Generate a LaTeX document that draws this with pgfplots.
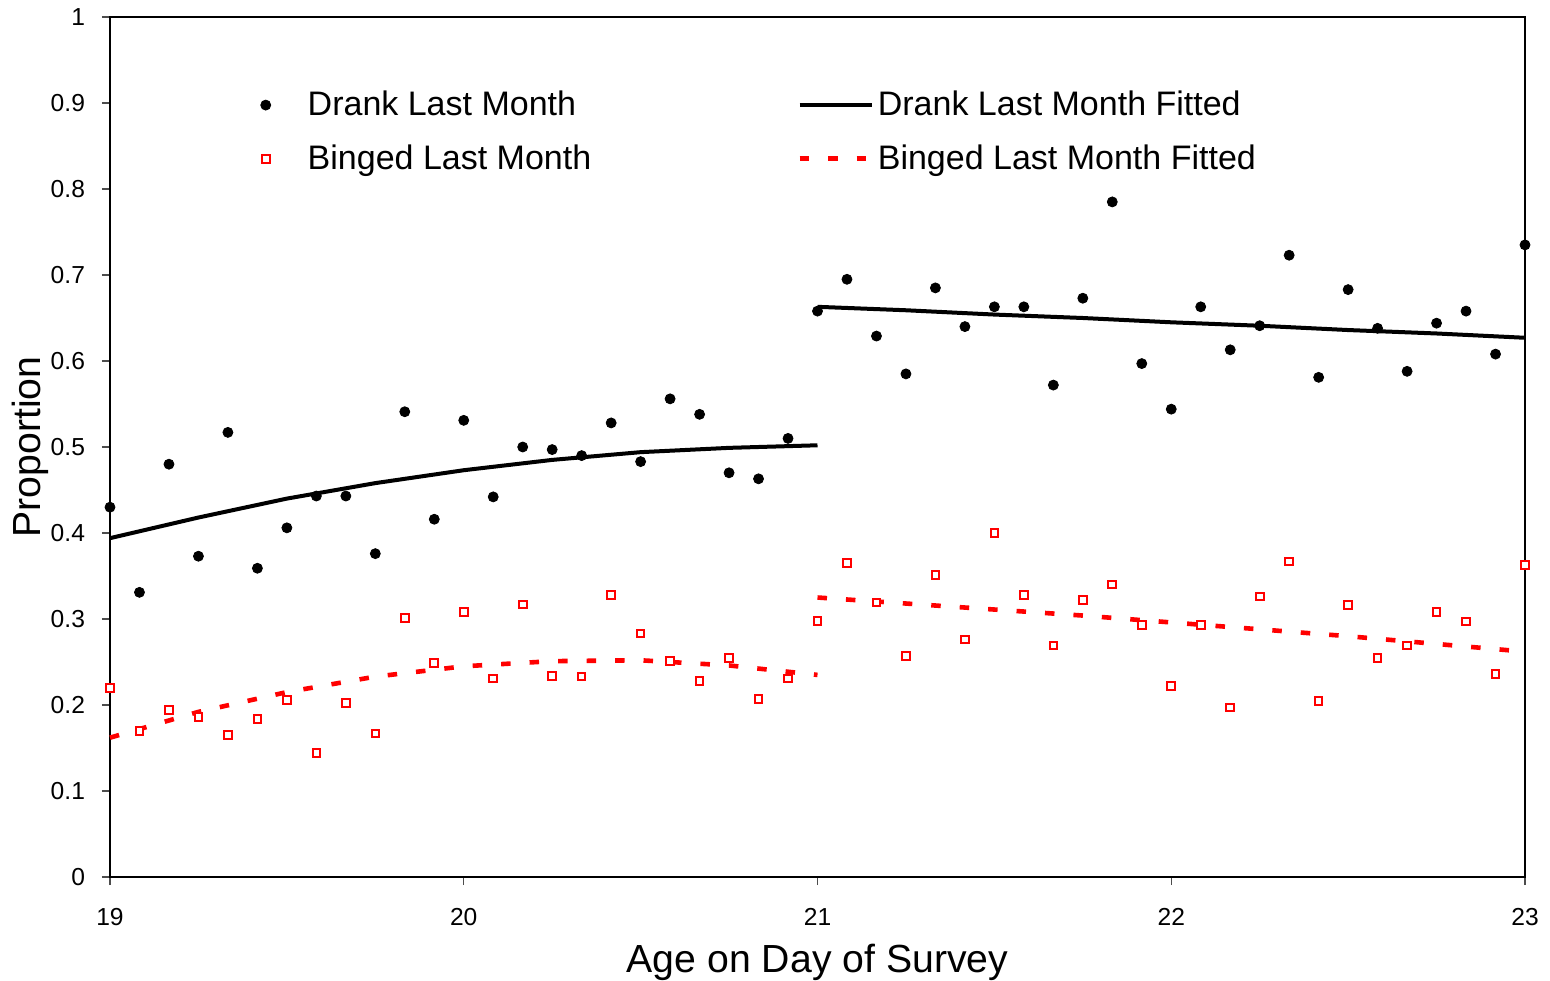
\documentclass[border=0pt]{standalone}
\usepackage{fontspec}
\setmainfont{Liberation Sans}
\usepackage{pgfplots}
\usepackage{pgfplotstable}
\pgfplotsset{compat=1.18}
\pgfplotsset{longline legend/.style={legend image code/.code={\draw[##1] (0pt,0pt) -- (36pt,0pt);}}}

% Monthly observed proportions
\pgfplotstableread{
age     drank  binged
19.0000 0.430  0.220
19.0833 0.331  0.170
19.1667 0.480  0.194
19.2500 0.373  0.186
19.3333 0.517  0.165
19.4167 0.359  0.184
19.5000 0.406  0.206
19.5833 0.443  0.144
19.6667 0.443  0.202
19.7500 0.376  0.167
19.8333 0.541  0.301
19.9167 0.416  0.249
20.0000 0.531  0.308
20.0833 0.442  0.231
20.1667 0.500  0.317
20.2500 0.497  0.234
20.3333 0.490  0.233
20.4167 0.528  0.328
20.5000 0.483  0.283
20.5833 0.556  0.251
20.6667 0.538  0.228
20.7500 0.470  0.255
20.8333 0.463  0.207
20.9167 0.510  0.231
21.0000 0.658  0.298
21.0833 0.695  0.365
21.1667 0.629  0.319
21.2500 0.585  0.257
21.3333 0.685  0.351
21.4167 0.640  0.276
21.5000 0.663  0.400
21.5833 0.663  0.328
21.6667 0.572  0.269
21.7500 0.673  0.322
21.8333 0.785  0.340
21.9167 0.597  0.293
22.0000 0.544  0.222
22.0833 0.663  0.293
22.1667 0.613  0.197
22.2500 0.641  0.326
22.3333 0.723  0.367
22.4167 0.581  0.205
22.5000 0.683  0.316
22.5833 0.638  0.255
22.6667 0.588  0.269
22.7500 0.644  0.308
22.8333 0.658  0.297
22.9167 0.608  0.236
23.0000 0.735  0.363
}\obs

% Fitted values below 21
\pgfplotstableread{
age   drank  binged
19.00 0.394  0.162
19.25 0.418  0.192
19.50 0.440  0.215
19.75 0.458  0.233
20.00 0.473  0.245
20.25 0.485  0.251
20.50 0.494  0.252
20.75 0.499  0.246
21.00 0.502  0.235
}\fitpre

% Fitted values from 21 on
\pgfplotstableread{
age   drank  binged
21.00 0.663  0.325
21.25 0.659  0.318
21.50 0.654  0.311
21.75 0.650  0.304
22.00 0.645  0.296
22.25 0.641  0.288
22.50 0.636  0.280
22.75 0.632  0.271
23.00 0.627  0.262
}\fitpost

\begin{document}
\begin{tikzpicture}
\begin{axis}[
  scale only axis,
  width=707.5pt, height=430pt,
  xmin=19, xmax=23, ymin=0, ymax=1,
  xtick={19,20,21,22,23},
  ytick={0,0.1,0.2,0.3,0.4,0.5,0.6,0.7,0.8,0.9,1},
  yticklabels={0,0.1,0.2,0.3,0.4,0.5,0.6,0.7,0.8,0.9,1},
  /pgf/number format/assume math mode=true,
  tick pos=left,
  tick align=outside,
  major tick length=4pt,
  every tick/.style={gray!60!black, line width=0.6pt},
  axis line style={line width=1.3pt},
  ticklabel style={font=\fontsize{12.3}{14}\selectfont},
  yticklabel style={xshift=-5pt},
  xticklabel style={yshift=-8pt},
  clip=false,
  xlabel={Age on Day of Survey},
  ylabel={Proportion},
  label style={font=\fontsize{19.6}{23}\selectfont},
  xlabel style={at={(axis description cs:0.5,-0.111)}, anchor=base},
  ylabel style={at={(axis description cs:-0.0565,0.5)}, anchor=center, rotate=0},
  legend columns=2,
  legend cell align=left,
  legend style={
    draw=none, fill=none,
    font=\fontsize{17}{20}\selectfont,
    at={(axis description cs:0.102,0.9234)}, anchor=north west,
    row sep=9pt,
    /tikz/column 1/.style={column sep=16.5pt},
    /tikz/column 2/.style={column sep=101pt},
  },
]
\addplot[only marks, mark=*, mark size=2.5pt, black]
  table[x=age, y=drank] {\obs};
\addlegendentry{Drank Last Month}

\addplot[black, line width=2pt, longline legend]
  table[x=age, y=drank] {\fitpre};
\addlegendentry{Drank Last Month Fitted}

\addplot[only marks, mark=square*, mark size=1.9pt, red,
  mark options={fill=white, line width=1pt}]
  table[x=age, y=binged] {\obs};
\addlegendentry{Binged Last Month}

\addplot[red, line width=2.3pt, dash pattern=on 4.75pt off 9.5pt, longline legend]
  table[x=age, y=binged] {\fitpre};
\addlegendentry{Binged Last Month Fitted}

\addplot[black, line width=2pt, forget plot]
  table[x=age, y=drank] {\fitpost};
\addplot[red, line width=2.3pt, dash pattern=on 4.75pt off 9.5pt, forget plot]
  table[x=age, y=binged] {\fitpost};
\end{axis}
\pgfresetboundingbox
\useasboundingbox (-55pt,-51.5pt) rectangle (720pt,438.5pt);
\end{tikzpicture}
\end{document}
